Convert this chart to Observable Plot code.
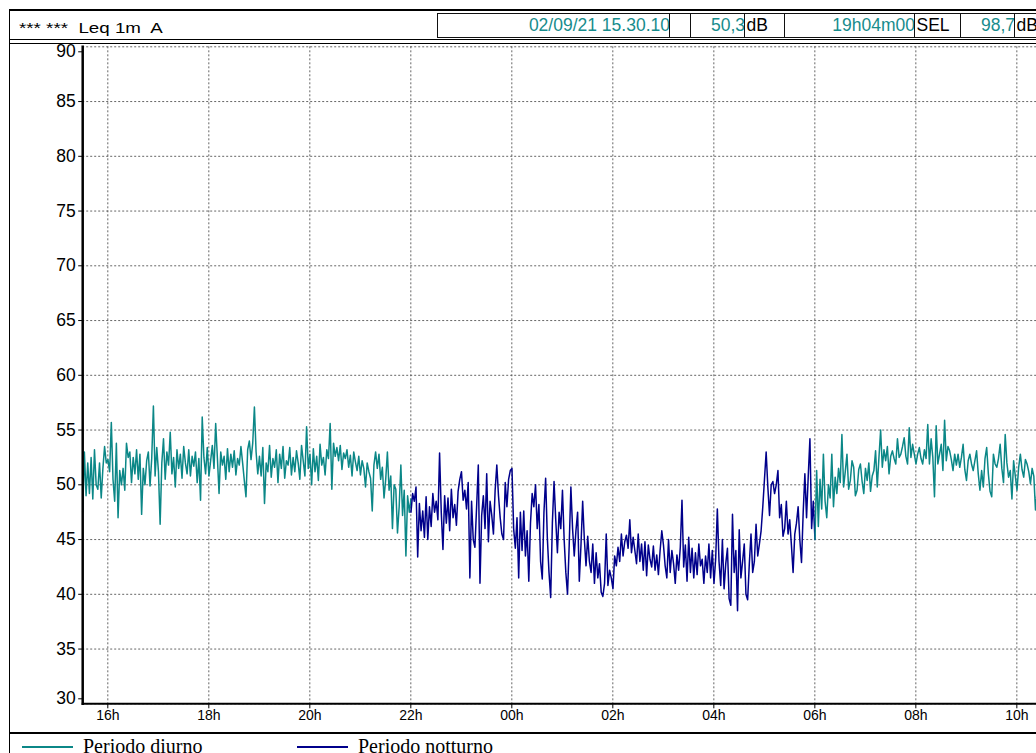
<!DOCTYPE html>
<html><head><meta charset="utf-8">
<script src="https://cdn.jsdelivr.net/npm/d3@7"></script>
<script src="https://cdn.jsdelivr.net/npm/@observablehq/plot@0.6"></script>
<style>
html,body{margin:0;padding:0;background:#fff;overflow:hidden;}
#wrap{position:relative;width:1060px;height:753px;font-family:"Liberation Sans",Arial,sans-serif;overflow:hidden;}
.abs{position:absolute;}
.hline{position:absolute;height:0;}
.vline{position:absolute;width:0;}
.cell{position:absolute;top:12.7px;height:25.6px;box-sizing:border-box;border-top:1.5px solid #111;border-bottom:1.5px solid #111;font-size:17.5px;line-height:22.5px;white-space:nowrap;}
.val{color:#178c8c;text-align:right;}
.unit{color:#000;text-align:left;}
.sep{position:absolute;top:12.7px;height:25.6px;width:0;border-left:1.5px solid #111;}
#chart{position:absolute;left:0;top:44px;}
.leg{position:absolute;top:736px;font-family:"Liberation Serif","Times New Roman",serif;font-size:20px;line-height:20px;white-space:nowrap;color:#000;}
.key{position:absolute;top:746px;height:0;border-top:2px solid;}
</style>
</head><body>
<div id="wrap"></div>
<script>
// ---- data ----
const startISO = "2021-09-02T15:30:10Z";
const durationMin = 1144;          // 19h04m00
const stepMin = 2;
const day1StartMin = 0;
const nightStartMin = 390;         // 22:00
const day2StartMin = 870;          // 06:00

const day1Values = [
47.5,53,49,52,49.2,52.5,48.7,53.2,50,49.6,52,48.8,51.5,
53.5,52,52.3,51.2,55.7,50.5,48.5,53.8,47,51.3,50,51.5,49.5,53.8,
52.5,53,50.2,52.5,51,53.2,50.5,52.8,47.3,51.5,50,52.2,53,49.9,52.4,57.2,50.8,53.4,51.2,46.4,
52,54.2,50.5,53,51.8,54.8,51,52.5,49.8,53.2,51.5,52.8,50.6,53.5,52,51,53.2,50.8,52.6,51.7,53,50.2,52.4,48.6,
56.2,
52.5,51,53.4,50.8,52.2,53.6,51.5,55.6,52.5,49.2,53,51.8,52.6,50.5,53.3,51.2,52.8,51.6,53.1,50.9,52.4,51.8,53.5,52,50.4,48.9,53.2,54,52.3,53.8,57.1,53,51,52.6,
50.8,53.4,48.3,52,51.2,53.6,50.7,52.4,51.6,53.2,50.2,52.8,51.5,53.5,50.6,52.2,51.8,53.4,50.9,52.5,51.2,53.1,52,50.5,53.6,
52.2,50.8,55.3,51.5,52.8,50,53.3,51.2,52.6,50.4,53.7,51.8,52.5,50.9,53.2,52.4,55.6,49.6,53.8,52.6,
53.4,52.2,53.6,51.4,52.9,52.4,53.2,51.6,52.7,50.8,53,52.1,51.3,52.6,50.9,52.2,51.5,49.8,52,51.2,50.6,47.6,51.8,53,51.5,
52.8,50.5,51.6,48.8,50.5,53,49.5,50.8,46,50,49.6,45.6,48,51.8,47.2,49.5,43.5,49,47.5,48.7
];

const nightValues = [
47.5,49.2,48.5,49.8,43.4, 48.3,45.8,47.6,45.2,48.9, 45,48,46.2,49.2,47.5, 48.5,46.8,52.9,47.5,44.1,
49,46.5,48.8,45.8,49.6, 47,48.2,46.3,49.4,50.5, 51.2,48.6,49.5,47.8,50.2, 41.5,48.5,45,44.3,48,
51.8,41,47.2,49,46, 51,44.8,48.5,47.2,45.5, 49.5,51.8,49,47,45.5, 45,50.2,48,50.5,51.3,
51.5,46,44.2,47,41.5, 47.5,44,47.6,43.5,45.8, 41.2,46.5,49.2,48,50, 46,48.2,43,41.4,47.5,
50.6,45.2,42,39.7,46.5, 50.3,46.8,43.8,47.5,46, 49.5,45,42,40,44.5, 49.8,46,43.5,45.8,47.5,
41.2,44.5,48.5,45,42.6, 45.3,43,42,44.6,41, 43.8,41.5,42.8,40.2,39.8, 41,45.5,40.8,42.2,41.5,
40.5,43.5,42.6,44.3,43, 45.5,43.5,44.8,45.4,44.2, 46.8,43.8,45.2,44,42.8, 45.5,43,44.6,42.2,44.8,
41.7,44.5,43.2,42.5,44.4, 42.2,43.6,41.8,44,45.8, 44.5,42.6,41.5,45,42, 44,42.8,41,43.6,42.2,
44.3,48.6,42.5,44.5,41.2, 45.2,42,44.2,41.5,43.8, 41.8,44.6,42.6,43.2,41, 43.5,42,44.6,41.5,44,
41,43.2,47.8,43,40.8, 45,40.5,42.8,44.2,39.6, 39,47.3,42,44,38.5, 45.9,41.5,43,44.6,40,
39.5,42.8,45.5,42,43, 46.4,43.5,44.6,45.8,48, 50.5,53,49.8,47.2,50, 50.3,49.2,50,51.3,47,
48.2,45.3,46,48.5,45.5, 46.8,44.5,42,45.5,46.5, 48,45,42.9,47.5,51, 47,50.8,54.2,46,48.5,
45
];

const day2Values = [
45,51.3,46.2,50.5,47.8, 52.8,48.5,47,50,48.8, 52.8,48,50.7,49.2,51.5, 50.2,54.6,49.8,51.2,52.8,
49.6,50.4,52.2,51.6,49, 49.5,51.4,51.9,50.3,49.2, 51.5,50.4,52,49.4,50.8, 51.3,53.1,49.8,52.5,55,
51.6,53.2,52.2,53.5,51, 52.6,53.1,52.4,51.9,54.2, 52.5,52.8,53.5,54.3,52.6, 51.9,55.2,52.5,53.7,52.8,
51.9,52.8,53.4,52.4,51.9, 53.2,52.4,55.5,51.9,54.2, 52.5,48.9,55.4,51.9,52.8, 53.7,51.3,55.9,52.2,53.5,
53.1,52.3,51.3,52.8,51.8, 52.8,51.6,52.5,53.7,51.4, 50.4,52.2,52.8,51.9,51.3, 52.2,53.1,51,49.5,51.3,
49.8,52.4,53.4,51,49.4, 48.9,52.8,51.9,51.6,52.4, 53.7,51.5,50.2,54.6,52, 50.7,51.3,48.7,52.2,50.8,
49.5,51.6,52.8,51.4,50.7, 52.3,51.9,51.2,50.1,51.5, 50.8,47.7,49.5,50.5,49.8, 51,50.3,50.5
];

const yTicks = [35,40,45,50,55,60,65,70,75,80,85];
const yTickBottom = [30];
const yTickTop = [90];
const xTickTimes = ["2021-09-02T16:00Z","2021-09-02T18:00Z","2021-09-02T20:00Z","2021-09-02T22:00Z","2021-09-03T00:00Z","2021-09-03T02:00Z","2021-09-03T04:00Z","2021-09-03T06:00Z","2021-09-03T08:00Z","2021-09-03T10:00Z"];
const xTickLabels = ["16h","18h","20h","22h","00h","02h","04h","06h","08h","10h"];

const headerTitle = "*** ***  Leq 1m  A";
const headerStart = "02/09/21 15.30.10";
const headerLeq = "50,3";
const headerDur = "19h04m00";
const headerSel = "98,7";
const unitDb = "dB";
const labelSel = "SEL";
const legendLabels = ["Periodo diurno", "Periodo notturno"];

const TEAL = "#0b8787";
const NAVY = "#00008b";

// ---- build ----
const start = new Date(startISO);
const end = new Date(start.getTime() + durationMin * 60000);
const toRows = (vals, offset) => vals.map((v, i) => ({t: new Date(start.getTime() + (offset + i * stepMin) * 60000), v}));
const day1 = toRows(day1Values, day1StartMin);
const night = toRows(nightValues, nightStartMin);
const day2 = toRows(day2Values, day2StartMin);
const xTicks = xTickTimes.map(s => new Date(s));
const xLabel = new Map(xTicks.map((d, i) => [+d, xTickLabels[i]]));

const gridStyle = {stroke: "#555", strokeOpacity: 0.9, strokeWidth: 1, strokeDasharray: "2,2"};
const yAxisStyle = {tickSize: 4, tickPadding: 3, fontSize: 17.5, label: null};

const chart = Plot.plot({
  width: 1060, height: 690,
  marginLeft: 82.2, marginRight: 14.9, marginTop: 2.3, marginBottom: 30.7,
  style: {fontFamily: "'Liberation Sans', Arial, sans-serif", color: "#000", background: "transparent", overflow: "visible"},
  x: {type: "utc", domain: [start, end]},
  y: {domain: [30, 90]},
  marks: [
    Plot.gridY([...yTickBottom, ...yTicks, ...yTickTop], gridStyle),
    Plot.gridX(xTicks, gridStyle),
    Plot.line(day1, {x: "t", y: "v", stroke: TEAL, strokeWidth: 1.5}),
    Plot.line(night, {x: "t", y: "v", stroke: NAVY, strokeWidth: 1.5}),
    Plot.line(day2, {x: "t", y: "v", stroke: TEAL, strokeWidth: 1.5}),
    Plot.axisX(xTicks, {tickFormat: d => xLabel.get(+d), tickSize: 5, tickPadding: 1, fontSize: 14, label: null}),
    Plot.axisY(yTicks, yAxisStyle),
    Plot.axisY(yTickBottom, {...yAxisStyle, dy: -5}),
    Plot.axisY(yTickTop, {...yAxisStyle, dy: 5}),
    Plot.frame({anchor: "left", strokeWidth: 2.5}),
    Plot.frame({anchor: "bottom", strokeWidth: 2})
  ]
});
chart.id = "chart";

const wrap = document.getElementById("wrap");
wrap.appendChild(chart);

function el(cls, style, text) {
  const d = document.createElement("div");
  d.className = cls;
  Object.assign(d.style, style);
  if (text != null) d.textContent = text;
  wrap.appendChild(d);
  return d;
}
// frame lines
el("hline", {left: "9px", top: "9px", width: "1060px", borderTop: "2px solid #000", zIndex: 3});
el("hline", {left: "9px", top: "38.5px", width: "1060px", borderTop: "1.5px solid #000", zIndex: 3});
el("hline", {left: "9px", top: "43px", width: "1060px", borderTop: "1.5px solid #000", zIndex: 3});
el("hline", {left: "9px", top: "731.8px", width: "1060px", borderTop: "2px solid #000", zIndex: 3});
el("vline", {left: "9px", top: "9px", height: "760px", borderLeft: "1.5px solid #000", zIndex: 3});

// header title (horizontally stretched as in the reference)
el("abs", {left: "19px", top: "18px", fontSize: "15px", lineHeight: "20px", whiteSpace: "pre", color: "#000",
  transform: "scaleX(1.25)", transformOrigin: "0 0"}, headerTitle);

// header cells
const cells = [
  {l: 437.7, r: 670, t: headerStart, c: "val"},
  {l: 670, r: 691, t: "", c: "val"},
  {l: 691, r: 745, t: headerLeq, c: "val"},
  {l: 745, r: 785, t: unitDb, c: "unit"},
  {l: 785, r: 915, t: headerDur, c: "val"},
  {l: 915, r: 961, t: labelSel, c: "unit"},
  {l: 961, r: 1015, t: headerSel, c: "val"},
  {l: 1015, r: 1070, t: unitDb, c: "unit"}
];
cells.forEach(c => {
  el("cell " + c.c, {left: c.l + "px", width: (c.r - c.l) + "px", paddingLeft: c.c === "unit" ? "1.5px" : "0"}, c.t);
  el("sep", {left: (c.l - 0.75) + "px"});
});

// legend
el("key", {left: "22px", width: "51px", borderTopColor: TEAL});
el("leg", {left: "83px"}, legendLabels[0]);
el("key", {left: "297px", width: "51px", borderTopColor: NAVY});
el("leg", {left: "358px"}, legendLabels[1]);
</script>
</body></html>
